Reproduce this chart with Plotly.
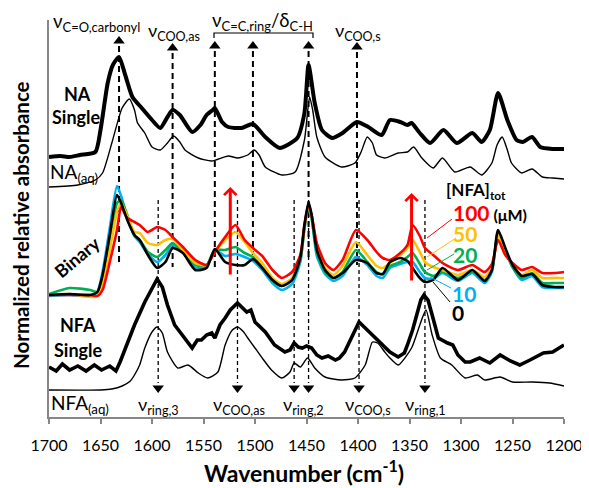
import plotly.graph_objects as go

# ---------------- data ----------------
# Binary spectra (NA + NFA), offset stack, arbitrary absorbance units
BIN_WN = [1700, 1680, 1660, 1653, 1648, 1641, 1634, 1630, 1624, 1617, 1612, 1604, 1595, 1587, 1580,
          1570, 1558, 1547, 1539, 1529, 1519, 1510, 1502, 1493, 1483, 1474, 1464, 1456, 1452, 1448,
          1445, 1440, 1432, 1424, 1415, 1402, 1391, 1382, 1376, 1369, 1359, 1352, 1347, 1340, 1335,
          1327, 1318, 1303, 1289, 1277, 1270, 1264, 1257, 1250, 1241, 1231, 1221, 1209, 1200]
BIN_0 = [122, 123, 122, 125, 142, 182, 222, 214, 197, 182, 177, 162, 149, 155, 169,
         164, 147, 149, 168, 155, 152, 152, 158, 149, 137, 131, 137, 159, 192, 215,
         202, 167, 147, 139, 144, 157, 154, 144, 143, 155, 159, 156, 149, 139, 135,
         137, 149, 137, 147, 136, 147, 187, 169, 152, 141, 143, 132, 130, 130]
BIN_10 = [121, 122, 121, 125, 145, 189, 231, 221, 199, 181, 175, 163, 155, 162, 172,
          165, 149, 151, 167, 161, 163, 160, 156, 147, 134, 127, 133, 155, 189, 210,
          199, 161, 143, 136, 141, 160, 152, 141, 139, 149, 153, 155, 155, 145, 139,
          138, 144, 136, 144, 134, 145, 185, 167, 150, 137, 141, 130, 129, 129]
BIN_20 = [123, 129, 127, 125, 137, 175, 214, 217, 202, 181, 177, 165, 160, 167, 174,
          165, 152, 152, 167, 167, 170, 164, 160, 150, 136, 131, 137, 157, 189, 212,
          199, 165, 145, 139, 145, 167, 155, 145, 143, 151, 155, 160, 164, 153, 145,
          141, 145, 139, 145, 137, 147, 184, 166, 150, 139, 144, 134, 134, 134]
BIN_50 = [122, 123, 120, 121, 132, 167, 205, 214, 201, 185, 184, 174, 172, 177, 178,
          167, 154, 152, 165, 177, 185, 175, 164, 154, 139, 133, 139, 159, 191, 212,
          201, 171, 149, 142, 151, 175, 162, 151, 149, 154, 162, 169, 177, 165, 155,
          150, 147, 142, 147, 140, 149, 182, 165, 152, 142, 147, 139, 139, 139]
BIN_100 = [122, 122, 122, 121, 127, 155, 187, 210, 199, 195, 192, 185, 190, 187, 180,
           170, 157, 152, 165, 180, 192, 177, 169, 161, 147, 139, 145, 162, 192, 213,
           202, 174, 154, 147, 157, 187, 177, 165, 159, 157, 164, 172, 192, 181, 169,
           162, 154, 147, 152, 145, 153, 177, 162, 154, 147, 150, 144, 144, 145]

NA_SINGLE_WN = [1700, 1689, 1680, 1670, 1655, 1650, 1643, 1638, 1632, 1626, 1619, 1610, 1600, 1592, 1585,
                1580, 1573, 1561, 1553, 1547, 1541, 1539, 1532, 1526, 1513, 1502, 1490, 1476, 1459, 1452,
                1448, 1442, 1435, 1425, 1415, 1401, 1390, 1377, 1369, 1359, 1352, 1348, 1340, 1330, 1317,
                1304, 1289, 1280, 1272, 1264, 1255, 1246, 1240, 1231, 1223, 1211, 1200]
NA_SINGLE = [260, 261, 260, 262, 265, 287, 334, 352, 360, 342, 320, 309, 297, 289, 300,
             307, 302, 285, 292, 302, 307, 309, 295, 290, 289, 293, 280, 269, 279, 304,
             352, 314, 287, 279, 284, 295, 290, 282, 297, 295, 292, 294, 284, 274, 287,
             274, 284, 275, 287, 324, 297, 277, 275, 280, 270, 268, 268]

NA_AQ_WN = [1700, 1672, 1655, 1648, 1639, 1629, 1622, 1617, 1614, 1607, 1600, 1592, 1585, 1579, 1573,
            1568, 1555, 1542, 1526, 1517, 1507, 1501, 1496, 1490, 1474, 1461, 1452, 1447, 1444, 1440,
            1432, 1416, 1403, 1397, 1391, 1386, 1382, 1374, 1361, 1352, 1346, 1338, 1327, 1318, 1306,
            1291, 1280, 1270, 1265, 1260, 1255, 1251, 1241, 1231, 1221, 1211, 1200]
NA_AQ = [230, 232, 237, 244, 274, 309, 318, 307, 294, 284, 270, 267, 274, 281, 275,
         267, 259, 256, 261, 259, 262, 267, 262, 250, 242, 245, 277, 320, 307, 280,
         260, 250, 254, 265, 280, 274, 262, 259, 264, 265, 270, 259, 249, 259, 245,
         250, 242, 254, 272, 280, 267, 254, 244, 248, 240, 239, 238]

NFA_SINGLE_WN = [1700, 1693, 1687, 1680, 1672, 1664, 1656, 1649, 1641, 1635, 1631, 1626, 1617, 1607, 1600,
                 1595, 1590, 1585, 1578, 1568, 1563, 1561, 1556, 1552, 1547, 1542, 1539, 1534, 1529, 1524,
                 1517, 1512, 1508, 1504, 1500, 1490, 1481, 1471, 1466, 1462, 1458, 1454, 1450, 1445, 1440,
                 1435, 1429, 1422, 1418, 1413, 1406, 1399, 1393, 1386, 1377, 1369, 1361, 1355, 1352, 1347,
                 1343, 1339, 1336, 1332, 1328, 1322, 1313, 1308, 1303, 1296, 1291, 1282, 1272, 1262, 1252,
                 1243, 1233, 1220, 1211, 1200]
NFA_SINGLE = [50, 46, 53, 47, 51, 46, 52, 47, 51, 46, 55, 69, 92, 115, 129,
              138, 130, 112, 92, 79, 73, 69, 77, 77, 82, 84, 79, 92, 99, 107,
              114, 109, 105, 107, 95, 85, 72, 65, 67, 74, 70, 69, 71, 69, 62,
              59, 61, 57, 59, 65, 80, 95, 89, 82, 72, 65, 60, 64, 72, 87,
              102, 117, 122, 117, 102, 79, 74, 72, 62, 55, 55, 59, 54, 62, 56,
              52, 57, 64, 65, 72]

NFA_AQ_WN = [1700, 1650, 1639, 1629, 1621, 1617, 1612, 1607, 1600, 1595, 1590, 1585, 1575, 1565, 1555,
             1546, 1536, 1529, 1522, 1517, 1511, 1507, 1500, 1493, 1484, 1474, 1466, 1462, 1456, 1449,
             1442, 1432, 1416, 1403, 1393, 1386, 1381, 1374, 1369, 1361, 1348, 1340, 1334, 1328, 1320,
             1309, 1296, 1284, 1277, 1262, 1250, 1231, 1214, 1200]
NFA_AQ = [27, 27, 28, 31, 36, 42, 52, 69, 85, 90, 84, 65, 49, 52, 44,
          39, 45, 72, 87, 90, 85, 79, 69, 59, 47, 39, 45, 54, 50, 59,
          49, 40, 37, 39, 52, 75, 74, 65, 59, 52, 69, 92, 107, 82, 59,
          52, 39, 42, 37, 40, 35, 35, 34, 31]

# band assignments (cm-1)
TOP_BANDS = [1632, 1580, 1539, 1502, 1448, 1401]
BOTTOM_BANDS = [1594, 1517, 1462, 1448, 1399, 1335]
ARROW_BANDS = [1524, 1348]

X_TICKS = [1700, 1650, 1600, 1550, 1500, 1450, 1400, 1350, 1300, 1250, 1200]
CONC_LABELS = ["0", "10", "20", "50", "100"]

# ---------------- styling ----------------
FONT = "Lato"
GRAY = "#878787"
C0, C10, C20, C50, C100 = "#000000", "#00B0F0", "#00B050", "#FFC000", "#FF0000"
PAGE = 8                      # default body margin of the html page
W, H = 589 - PAGE, 488 - PAGE
PL, PT, PW, PH = 49, 20, 515, 397   # plot area in window pixels
L, T = PL - PAGE, PT - PAGE
R, B = W - L - PW, H - T - PH


def X(px):
    return 1700 - (px - PL) / 1.03


def Y(py):
    return (PT + PH) - py


fig = go.Figure()


def add_line(xs, ys, color, width, shape="spline"):
    fig.add_trace(go.Scatter(x=xs, y=ys, mode="lines", hoverinfo="skip",
                             line=dict(color=color, width=width, shape=shape, smoothing=0.6)))


add_line(NFA_AQ_WN, NFA_AQ, "black", 1.4)
add_line(NFA_SINGLE_WN, NFA_SINGLE, "black", 3.6, "linear")
add_line(NA_AQ_WN, NA_AQ, "black", 1.4)
add_line(NA_SINGLE_WN, NA_SINGLE, "black", 4)
add_line(BIN_WN, BIN_10, C10, 2.6)
add_line(BIN_WN, BIN_20, C20, 2.6)
add_line(BIN_WN, BIN_50, C50, 2.6)
add_line(BIN_WN, BIN_100, C100, 2.6)
add_line(BIN_WN, BIN_0, C0, 2.6)

shapes = []
# top dashed lines with up triangles
top_tri_py = [41, 48, 46, 46, 46, 47]
top_end_py = [262, 267, 267, 255, 260, 265]
for wn, tp, ep in zip(TOP_BANDS, top_tri_py, top_end_py):
    shapes.append(dict(type="line", xref="x", yref="y", x0=wn, x1=wn, y0=Y(tp + 5), y1=Y(ep),
                       line=dict(color="black", width=2, dash="6px,4px"), layer="below"))
fig.add_trace(go.Scatter(x=TOP_BANDS, y=[Y(p) for p in top_tri_py], mode="markers", hoverinfo="skip",
                         marker=dict(symbol="triangle-up", size=10, color="black")))
# bottom dashed lines with down triangles
for wn in BOTTOM_BANDS:
    shapes.append(dict(type="line", xref="x", yref="y", x0=wn, x1=wn, y0=Y(200), y1=Y(383),
                       line=dict(color="black", width=1.3, dash="4px,3px"), layer="below"))
fig.add_trace(go.Scatter(x=BOTTOM_BANDS, y=[Y(388)] * len(BOTTOM_BANDS), mode="markers", hoverinfo="skip",
                         marker=dict(symbol="triangle-down", size=10, color="black")))

# bracket over ring / C-H bands
shapes.append(dict(type="path", xref="x", yref="y",
                   path=f"M{X(214)},{Y(38)} L{X(214)},{Y(33)} L{X(313)},{Y(33)} L{X(313)},{Y(38)}",
                   line=dict(color="black", width=1.2)))

# leader lines for concentration labels
leaders = [((427, 238), (452, 219), C100), ((427, 257), (456, 238), C50),
           ((427, 270), (454, 254), C20), ((430, 277), (451, 288), C10),
           ((433, 282), (450, 302), C0)]
for (a, b, c) in leaders:
    shapes.append(dict(type="line", xref="x", yref="y", x0=X(a[0]), y0=Y(a[1]), x1=X(b[0]), y1=Y(b[1]),
                       line=dict(color=c, width=1)))

anns = []


def ann(text, px, py, size, color="black", xanchor="left", angle=0, align="left"):
    anns.append(dict(text=text, x=X(px), y=Y(py), xref="x", yref="y", showarrow=False,
                     xanchor=xanchor, yanchor="middle", textangle=angle, borderpad=0, align=align,
                     font=dict(family=FONT, size=size, color=color)))


def pann(text, px, py, size, color="black", xanchor="left", angle=0):
    anns.append(dict(text=text, x=(px - PL) / PW, y=(PT + PH - py) / PH, xref="paper", yref="paper",
                     showarrow=False, xanchor=xanchor, yanchor="middle", textangle=angle,
                     font=dict(family=FONT, size=size, color=color)))


# top band labels
pann("ν<sub>C=O,carbonyl</sub>", 51, 22, 18.5)
ann("ν<sub>COO,as</sub>", 147, 31, 18)
ann("ν<sub>C=C,ring</sub>/δ<sub>C-H</sub>", 211, 21, 18.5)
ann("ν<sub>COO,s</sub>", 334, 31, 18)
# bottom band labels
ann("ν<sub>ring,3</sub>", 137, 405, 18)
ann("ν<sub>COO,as</sub>", 212, 405, 18)
ann("ν<sub>ring,2</sub>", 282, 405, 18)
ann("ν<sub>COO,s</sub>", 344, 405, 18)
ann("ν<sub>ring,1</sub>", 404, 405, 18)
# sample labels
ann("<b>NA</b>", 77, 94, 18, xanchor="center")
ann("<b>Single</b>", 76, 117, 18, xanchor="center")
ann("NA<sub>(aq)</sub>", 49, 173, 19)
ann("<b>Binary</b>", 77, 257, 18, xanchor="center", angle=-40)
ann("<b>NFA</b>", 78, 325, 18, xanchor="center")
ann("<b>Single</b>", 78, 350, 18, xanchor="center")
ann("NFA<sub>(aq)</sub>", 50, 404, 19)
# concentration legend
ann("<b>[NFA]<sub>tot</sub></b>", 445, 191, 17)


def big(label, color):
    return f"<span style='font-size:21px;color:{color}'>{label}</span>"


ann("<b>" + big(CONC_LABELS[4], C100) + " (μM)<br>" + big(CONC_LABELS[3], C50) + "<br>"
    + big(CONC_LABELS[2], C20) + "</b>", 452, 233, 16)
ann("<b>" + big(CONC_LABELS[1], C10) + "<br>" + big(CONC_LABELS[0], C0) + "</b>", 451, 302.5, 14.6)

# red arrows
for wn, tip, tail in zip(ARROW_BANDS, [187, 193], [276, 282]):
    anns.append(dict(text="", x=wn, y=Y(tip), ax=wn, ay=Y(tail), xref="x", yref="y",
                     axref="x", ayref="y", showarrow=True, arrowhead=4, arrowsize=0.8,
                     arrowwidth=3, arrowcolor=C100, standoff=0, startstandoff=0))

# axis titles
pann("<b>Normalized relative absorbance</b>", 21, 225, 20.5, xanchor="center", angle=-90)
pann("<b>Wavenumber (cm<sup>-1</sup>)</b>", 304, 471, 23, xanchor="center")

fig.update_layout(
    width=W, height=H, margin=dict(l=L, r=R, t=T, b=B, autoexpand=False),
    plot_bgcolor="white", paper_bgcolor="white", showlegend=False,
    shapes=shapes, annotations=anns,
    font=dict(family=FONT, color="black"),
    xaxis=dict(range=[1700, 1200], tickvals=X_TICKS, ticks="outside", ticklen=5, tickwidth=1.5,
               tickcolor=GRAY, showline=True, linecolor=GRAY, linewidth=1.5, showgrid=False,
               zeroline=False, ticklabelstandoff=8, tickfont=dict(family=FONT, size=16, color="black")),
    yaxis=dict(range=[0, PH], showline=True, linecolor=GRAY, linewidth=1.5, showgrid=False,
               zeroline=False, showticklabels=False, ticks=""),
)

fig.write_html("out.html")
